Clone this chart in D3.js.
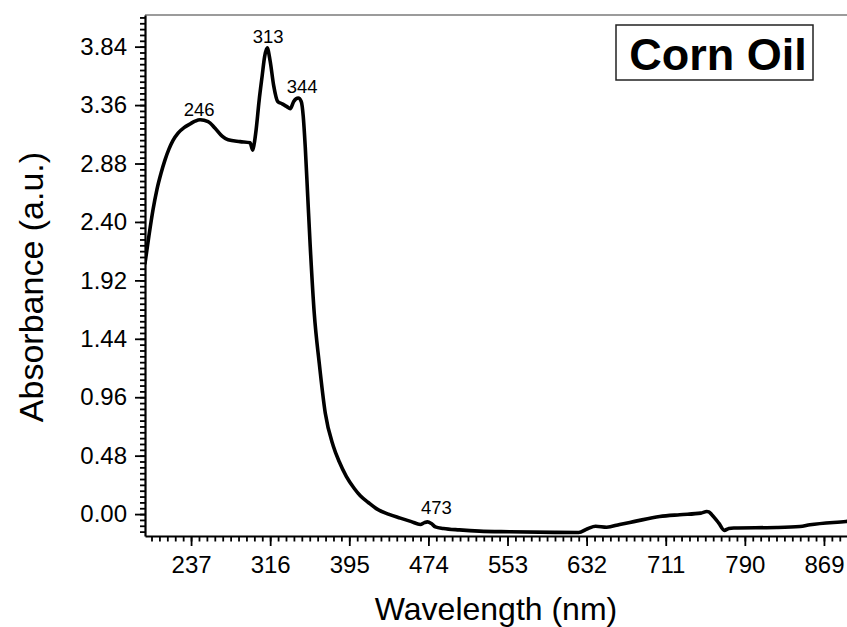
<!DOCTYPE html>
<html>
<head>
<meta charset="utf-8">
<script src="https://cdn.jsdelivr.net/npm/d3@7"></script>
<style>
  html, body { margin: 0; padding: 0; background: #fff; }
  svg { display: block; font-family: "Liberation Sans", Arial, sans-serif; }
</style>
</head>
<body>
<svg id="chart" width="847" height="627"></svg>
<script>
// UV-Vis absorption spectrum of corn oil
const wavelength = [
  191, 195, 199, 203, 207, 211, 215, 219, 224, 230, 236, 241, 246, 254, 261, 268, 274,
  286, 296, 298.5, 300, 302, 305, 308, 310.5, 313, 316, 319.5, 323.5, 328,
  333, 336, 339.5, 344, 347, 349, 351, 353.5, 356, 360, 365, 371, 379, 385,
  392, 400, 406, 414, 422, 434, 446, 457, 466, 470, 473, 477, 481, 489, 505,
  525, 555, 600, 624, 633, 641, 652, 665, 679, 705, 725, 746, 752, 754, 757,
  764, 769.5, 774, 779, 822, 845, 855, 891, 900
];
const absorbance = [
  2.06, 2.29, 2.50, 2.67, 2.80, 2.91, 3.00, 3.07, 3.13, 3.175, 3.205, 3.228, 3.24, 3.225, 3.17, 3.105, 3.075,
  3.06, 3.05, 2.99, 3.04, 3.16, 3.40, 3.60, 3.76, 3.83, 3.72, 3.52, 3.39, 3.37,
  3.345, 3.33, 3.39, 3.418, 3.39, 3.27, 3.02, 2.61, 2.20, 1.65, 1.24, 0.83, 0.56, 0.43,
  0.31, 0.21, 0.15, 0.095, 0.045, 0.0, -0.033, -0.062, -0.085, -0.07, -0.064, -0.078, -0.105, -0.118, -0.13,
  -0.14, -0.145, -0.15, -0.151, -0.12, -0.10, -0.108, -0.085, -0.062, -0.02, -0.005, 0.008, 0.021, 0.018, -0.005,
  -0.074, -0.134, -0.118, -0.114, -0.110, -0.102, -0.088, -0.061, -0.054
];

// Annotated band maxima (nm)
const peakLabels = [246, 313, 344, 473];

// Axis ticks
const xTicks = [237, 316, 395, 474, 553, 632, 711, 790, 869];
const yTicks = [0.00, 0.48, 0.96, 1.44, 1.92, 2.40, 2.88, 3.36, 3.84];

const xTitle = "Wavelength (nm)";
const yTitle = "Absorbance (a.u.)";
const sampleName = "Corn Oil";

const svg = d3.select("#chart");
const W = 847, H = 627;
svg.append("rect").attr("width", W).attr("height", H).attr("fill", "#fff");

const plot = { left: 145, top: 15, bottom: 536, right: 855 };

const x = d3.scaleLinear().domain([191, 900]).range([plot.left, plot.right]);
const y = d3.scaleLinear().domain([-0.18, 4.10]).range([plot.bottom, plot.top]);

// minor tick positions: ten subdivisions per major interval
const xStep = (xTicks[1] - xTicks[0]) / 10;
const xMinor = d3.range(-10, 100).map(k => xTicks[0] + k * xStep)
  .filter(v => v >= x.domain()[0] && v <= x.domain()[1]);
const yStep = (yTicks[1] - yTicks[0]) / 10;
const yMinor = d3.range(-10, 100).map(k => yTicks[0] + k * yStep)
  .filter(v => v >= y.domain()[0] - 1e-9 && v <= y.domain()[1]);

// clip for the spectrum
svg.append("clipPath").attr("id", "plotClip")
  .append("rect")
  .attr("x", plot.left).attr("y", plot.top)
  .attr("width", plot.right - plot.left).attr("height", plot.bottom - plot.top);

// top frame line
svg.append("line")
  .attr("x1", plot.left).attr("x2", plot.right)
  .attr("y1", plot.top).attr("y2", plot.top)
  .attr("stroke", "#7a7a7a").attr("stroke-width", 1.6);

// spectrum
const series = wavelength.map((w, i) => [w, absorbance[i]]);
const line = d3.line()
  .x(d => x(d[0]))
  .y(d => y(d[1]))
  .curve(d3.curveMonotoneX);

svg.append("path")
  .datum(series)
  .attr("clip-path", "url(#plotClip)")
  .attr("fill", "none")
  .attr("stroke", "#000")
  .attr("stroke-width", 3.6)
  .attr("stroke-linejoin", "round")
  .attr("stroke-linecap", "round")
  .attr("d", line);

// axes
function styleAxis(g) {
  g.selectAll("path.domain").attr("stroke", "#000").attr("stroke-width", 2.2);
  g.selectAll(".tick line").attr("stroke", "#000").attr("stroke-width", 1.8);
  g.selectAll(".tick text")
    .attr("fill", "#000")
    .style("font-size", "24px")
    .style("font-family", '"Liberation Sans", Arial, sans-serif');
}

// x minor
svg.append("g")
  .attr("transform", `translate(0,${plot.bottom})`)
  .call(d3.axisBottom(x).tickValues(xMinor).tickSize(5.5).tickFormat(""))
  .call(g => g.select(".domain").remove())
  .call(styleAxis);
// x major
svg.append("g")
  .attr("transform", `translate(0,${plot.bottom})`)
  .call(d3.axisBottom(x).tickValues(xTicks).tickSize(10).tickSizeOuter(0)
        .tickPadding(10).tickFormat(d3.format("d")))
  .call(styleAxis);

// y minor
svg.append("g")
  .attr("transform", `translate(${plot.left},0)`)
  .call(d3.axisLeft(y).tickValues(yMinor).tickSize(5).tickFormat(""))
  .call(g => g.select(".domain").remove())
  .call(styleAxis);
// y major
svg.append("g")
  .attr("transform", `translate(${plot.left},0)`)
  .call(d3.axisLeft(y).tickValues(yTicks).tickSize(10).tickSizeOuter(0)
        .tickPadding(8).tickFormat(d3.format(".2f")))
  .call(styleAxis);

// peak annotations, placed just above each maximum
const labelNudge = { 246: [-1, -4], 313: [1, -5], 344: [4, -5], 473: [9, -8] };
const valueAt = nm => absorbance[wavelength.indexOf(nm)];
svg.append("g")
  .selectAll("text")
  .data(peakLabels)
  .join("text")
  .attr("x", d => x(d) + labelNudge[d][0])
  .attr("y", d => y(valueAt(d)) + labelNudge[d][1])
  .attr("text-anchor", "middle")
  .style("font-size", "18.5px")
  .attr("fill", "#000")
  .text(d => d);

// axis titles
svg.append("text")
  .attr("x", 496).attr("y", 620)
  .attr("text-anchor", "middle")
  .style("font-size", "32px")
  .attr("fill", "#000")
  .text(xTitle);

svg.append("text")
  .attr("transform", "translate(43,287) rotate(-90)")
  .attr("text-anchor", "middle")
  .style("font-size", "34px")
  .attr("fill", "#000")
  .text(yTitle);

// sample name box
svg.append("rect")
  .attr("x", 616).attr("y", 25).attr("width", 197).attr("height", 55)
  .attr("fill", "#fff").attr("stroke", "#222").attr("stroke-width", 1.5);
svg.append("text")
  .attr("x", 718).attr("y", 70)
  .attr("text-anchor", "middle")
  .style("font-size", "45px")
  .style("font-weight", "bold")
  .attr("fill", "#000")
  .text(sampleName);
</script>
</body>
</html>
